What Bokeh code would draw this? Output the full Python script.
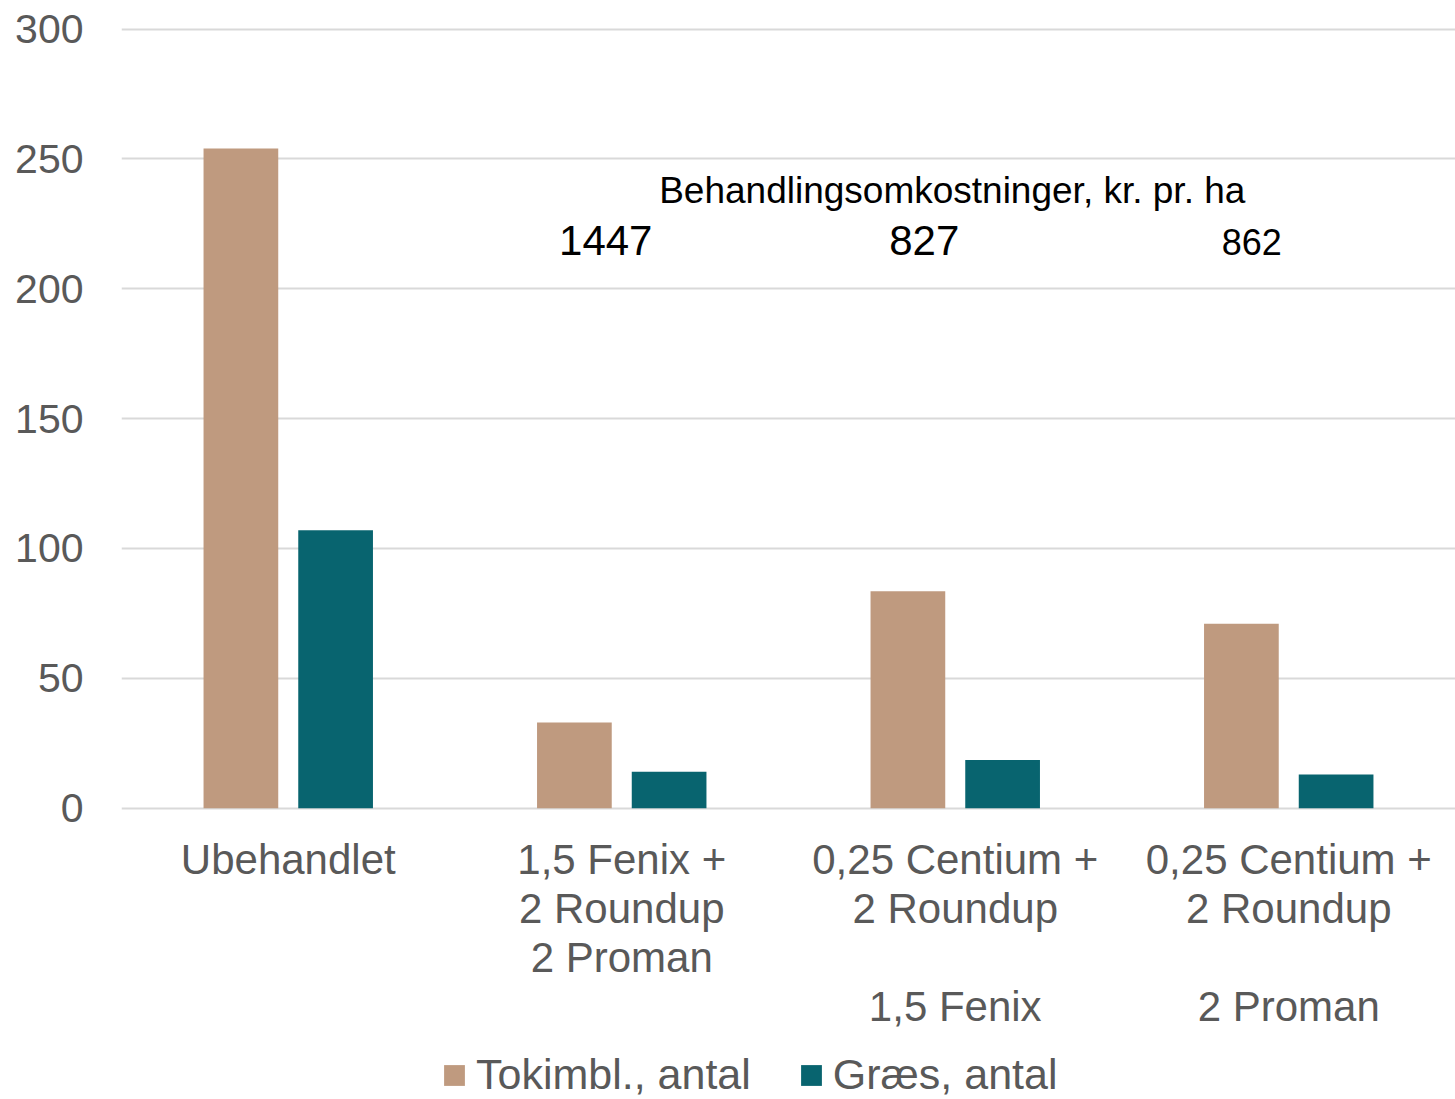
from bokeh.plotting import figure
from bokeh.models import ColumnDataSource, FactorRange, FixedTicker, Legend, LegendItem, Range1d
from bokeh.transform import dodge
from bokeh.core.properties import value
from bokeh.embed import file_html
from bokeh.resources import INLINE

categories = ["Ubehandlet",
              "1,5 Fenix +\n2 Roundup\n2 Proman",
              "0,25 Centium +\n2 Roundup\n \n1,5 Fenix",
              "0,25 Centium +\n2 Roundup\n \n2 Proman"]
tokimbl = [254, 33, 83.5, 71]
graes = [107, 14, 18.5, 13]
series_names = ["Tokimbl., antal", "Græs, antal"]
y_ticks = [0, 50, 100, 150, 200, 250, 300]

cost_title = "Behandlingsomkostninger, kr. pr. ha"
cost_cats = [categories[1], categories[2], categories[3]]
cost_values = ["1447", "827", "862"]

TAN = "#BF9A7F"
TEAL = "#08646F"
GREY = "#595959"
FONT = "Liberation Sans"

src = ColumnDataSource(dict(cat=categories, tok=tokimbl, gr=graes,
                            base=[0] * len(categories)))

# the frame extends below zero so the category labels and the legend sit inside it
p = figure(x_range=FactorRange(factors=categories, range_padding=0),
           y_range=Range1d(-112.2, 301),
           frame_width=1334, frame_height=1073, output_backend="svg", toolbar_location=None,
           min_border_left=121, min_border_right=0, min_border_top=26, min_border_bottom=0)
p.outline_line_color = None
p.background_fill_color = "white"

r1 = p.vbar(x=dodge("cat", -0.142, range=p.x_range), top="tok", width=0.224, source=src,
            fill_color=TAN, line_color=None)
r2 = p.vbar(x=dodge("cat", 0.142, range=p.x_range), top="gr", width=0.224, source=src,
            fill_color=TEAL, line_color=None)

# category labels (below the zero line)
p.text(x="cat", y="base", text="cat", source=src, y_offset=28,
       text_font=value(FONT), text_font_size="42px", text_color=GREY,
       text_align="center", text_baseline="top", text_line_height=1.045)

# annotations
tsrc = ColumnDataSource(dict(x=[categories[2]], y=[238], t=[cost_title]))
p.text(x=dodge("x", 0, range=p.x_range), y="y", text="t", source=tsrc, x_offset=-3,
       text_font=value(FONT), text_font_size="37px", text_color="black",
       text_align="center", text_baseline="middle")
csrc = ColumnDataSource(dict(x=cost_cats, y=[218.7, 218.7, 218], t=cost_values,
                             xo=[-16, -31, -37], fs=["42px", "42px", "36px"]))
p.text(x=dodge("x", 0, range=p.x_range), y="y", text="t", source=csrc, x_offset="xo",
       text_font=value(FONT), text_font_size="fs", text_color="black",
       text_align="center", text_baseline="middle")

# axes
p.yaxis.ticker = FixedTicker(ticks=y_ticks)
p.yaxis.axis_line_color = None
p.yaxis.major_tick_line_color = None
p.yaxis.minor_tick_line_color = None
p.yaxis.major_label_text_font = FONT
p.yaxis.major_label_text_font_size = "41px"
p.yaxis.major_label_text_color = GREY
p.yaxis.major_label_standoff = 32

p.xaxis.visible = False

p.xgrid.grid_line_color = None
p.ygrid.ticker = FixedTicker(ticks=y_ticks)
p.ygrid.grid_line_color = "#D9D9D9"
p.ygrid.grid_line_width = 2

legend = Legend(items=[LegendItem(label=series_names[0], renderers=[r1]),
                       LegendItem(label=series_names[1], renderers=[r2])],
                orientation="horizontal", location=(320, 0),
                label_text_font=FONT, label_text_font_size="43px", label_text_color=GREY,
                glyph_width=26, glyph_height=26, spacing=47, label_standoff=9,
                border_line_color=None, background_fill_alpha=0, margin=0, padding=0)
p.add_layout(legend, "center")

open("out.html", "w").write(file_html(p, INLINE))
